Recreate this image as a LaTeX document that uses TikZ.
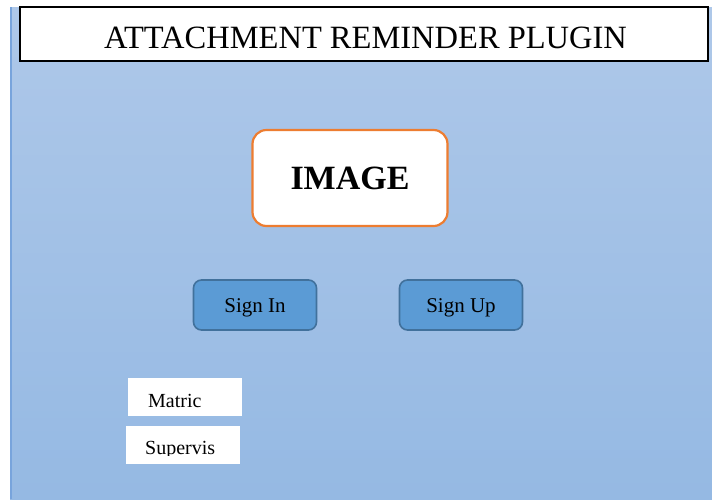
\documentclass[tikz,border=0pt]{standalone}
\usepackage{fontspec}
\setmainfont{Liberation Serif}
\usepackage{tikz}
\definecolor{bgtop}{RGB}{174,200,233}
\definecolor{bgbot}{RGB}{149,185,227}
\definecolor{bgedge}{RGB}{120,164,220}
\definecolor{imgorange}{RGB}{237,125,49}
\definecolor{btnfill}{RGB}{91,155,213}
\definecolor{btnline}{RGB}{65,113,156}

\begin{document}
\begin{tikzpicture}[x=1pt,y=-1pt,
  titlebox/.style={draw=black, line width=1.2pt, fill=white, minimum width=688pt, minimum height=54pt, inner sep=0pt},
  imagebox/.style={draw=imgorange, line width=2.2pt, fill=white, rounded corners=14pt, minimum width=195pt, minimum height=96pt, text height=22.5pt, text depth=0pt, font=\fontsize{34}{38}\selectfont\bfseries},
  button/.style={draw=btnline, line width=1.6pt, fill=btnfill, rounded corners=8pt, minimum width=123pt, minimum height=50pt, text height=14pt, text depth=0pt, font=\fontsize{21}{24}\selectfont},
  field/.style={fill=white, minimum width=114pt, minimum height=38pt, inner sep=0pt}]
\useasboundingbox (0,0) rectangle (712,499);

% background
\shade[top color=bgtop, bottom color=bgbot] (10,7) rectangle (712,499);
\draw[bgedge, line width=2pt] (11,7) -- (11,499);

% title
\node[titlebox] (title) at (364,34) {};
\node[anchor=base west, font=\fontsize{32.5}{36}\selectfont, inner sep=0pt] (titletext) at (104,48) {ATTACHMENT REMINDER PLUGIN};

% image and buttons
\node[imagebox] (image) at (350,178) {IMAGE};
\node[button] (signin) at (255,305) {Sign In};
\node[button] (signup) at (461,305) {Sign Up};

% input fields
\node[field] (matric) at (185,397) {};
\node[anchor=base west, font=\fontsize{20}{24}\selectfont, inner sep=0pt] (matrictext) at (148,407) {Matric};
\node[field] (supervis) at (183,445) {};
\begin{scope}
\clip (126,426) rectangle (240,455);
\node[anchor=base west, font=\fontsize{20}{24}\selectfont, inner sep=0pt] (supervistext) at (145,454) {Supervis};
\end{scope}
\end{tikzpicture}
\end{document}
